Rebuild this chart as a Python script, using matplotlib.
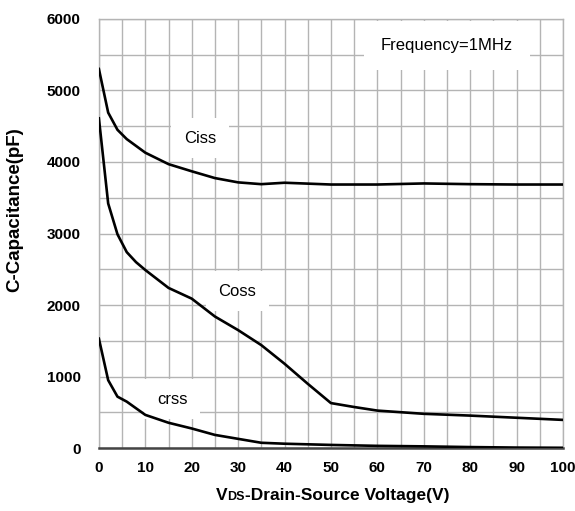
import matplotlib.pyplot as plt
from matplotlib.offsetbox import TextArea, HPacker, AnchoredOffsetbox
import numpy as np

plt.rcParams['font.family'] = ['Liberation Sans', 'DejaVu Sans']

# capacitance vs drain-source voltage, f = 1 MHz
vds_ciss = [0, 2, 4, 6, 10, 15, 20, 25, 30, 35, 40, 50, 60, 70, 80, 90, 100]
ciss = [5300, 4690, 4450, 4320, 4130, 3970, 3870, 3775, 3715, 3690, 3710, 3685, 3685, 3700, 3690, 3685, 3685]

vds_coss = [0, 2, 4, 6, 8, 10, 15, 20, 25, 30, 35, 40, 45, 50, 55, 60, 70, 80, 90, 100]
coss = [4610, 3420, 2990, 2740, 2600, 2490, 2240, 2090, 1840, 1650, 1440, 1180, 900, 630, 575, 525, 480, 455, 425, 395]

vds_crss = [0, 2, 4, 6, 10, 15, 20, 25, 30, 35, 40, 50, 60, 70, 80, 90, 100]
crss = [1530, 950, 720, 650, 465, 355, 275, 185, 130, 75, 62, 45, 32, 25, 15, 8, 5]

xticks = np.arange(0, 101, 10)
yticks = np.arange(0, 6001, 1000)

fig = plt.figure(figsize=(5.75, 5.11), dpi=100)
ax = fig.add_axes([0.172, 0.123, 0.807, 0.840])

ax.plot(vds_ciss, ciss, color='black', lw=1.9, zorder=3)
ax.plot(vds_coss, coss, color='black', lw=1.9, zorder=3)
ax.plot(vds_crss, crss, color='black', lw=1.9, zorder=3)

ax.set_xlim(0, 100)
ax.set_ylim(0, 6000)
ax.set_xticks(xticks)
ax.set_yticks(yticks)
ax.set_xticks(np.arange(0, 101, 5), minor=True)
ax.set_yticks(np.arange(0, 6001, 500), minor=True)
ax.grid(which='both', color='#b4b4b4', lw=1.0, zorder=0)
ax.set_axisbelow(True)
ax.tick_params(which='both', length=0)
ax.tick_params(axis='y', pad=13)
ax.tick_params(axis='x', pad=9)
for lbl in ax.get_xticklabels() + ax.get_yticklabels():
    lbl.set_fontweight('bold')
    lbl.set_fontsize(11)

for side in ['top', 'right', 'left']:
    ax.spines[side].set_color('#b4b4b4')
    ax.spines[side].set_linewidth(1.0)
ax.spines['bottom'].set_color('#444444')
ax.spines['bottom'].set_linewidth(1.8)

box = dict(facecolor='white', edgecolor='none', pad=9)
ax.text(21.8, 4330, 'Ciss', fontsize=12, ha='center', va='center', bbox=box, zorder=2)
ax.text(29.8, 2190, 'Coss', fontsize=12, ha='center', va='center', bbox=box, zorder=2)
ax.text(15.8, 680, 'crss', fontsize=12, ha='center', va='center', bbox=box, zorder=2)
ax.text(75.0, 5630, 'Frequency=1MHz', fontsize=12, ha='center', va='center',
        bbox=dict(facecolor='white', edgecolor='none', pad=12), zorder=2)

ax.set_ylabel('C-Capacitance(pF)', fontsize=13.5, fontweight='bold')
ax.yaxis.set_label_coords(-0.164, 0.555)

# x label with the small "DS" after V
parts = [TextArea('V', textprops=dict(fontsize=12.5, fontweight='bold')),
         TextArea('DS', textprops=dict(fontsize=9, fontweight='bold')),
         TextArea('-Drain-Source Voltage(V)', textprops=dict(fontsize=12.5, fontweight='bold'))]
pack = HPacker(children=parts, align='baseline', pad=0, sep=0)
anchored = AnchoredOffsetbox(loc='center', child=pack, frameon=False,
                             bbox_to_anchor=(0.578, 0.031), bbox_transform=fig.transFigure,
                             borderpad=0)
fig.add_artist(anchored)

fig.savefig('out.png', dpi=100)
